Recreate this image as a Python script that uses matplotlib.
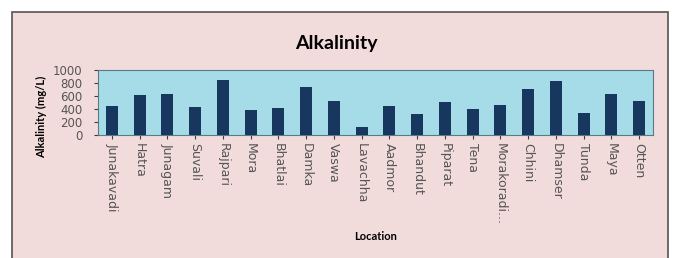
import matplotlib.pyplot as plt
from matplotlib.patches import Rectangle
import numpy as np

locations = ["Junakavadi", "Hatra", "Junagam", "Suvali", "Rajpari", "Mora",
             "Bhatlai", "Damka", "Vaswa", "Lavachha", "Aadmor", "Bhandut",
             "Piparat", "Tena", "Morakoradi...", "Chhini", "Dhamser", "Tunda",
             "Maya", "Otten"]
alkalinity = [451, 611, 637, 435, 839, 383, 409, 741, 518, 124,
              440, 316, 508, 399, 456, 715, 824, 332, 627, 523]
y_ticks = [0, 200, 400, 600, 800, 1000]

plt.rcParams['font.family'] = ['Lato', 'DejaVu Sans']

fig = plt.figure(figsize=(6.73, 2.58), dpi=100)
fig.patch.set_facecolor('white')
# chart area frame
fig.patches.append(Rectangle((12 / 673, -0.05), 656 / 673, 1 - 12 / 258 + 0.05,
                             transform=fig.transFigure, facecolor='#f2dcdb',
                             edgecolor='#555555', linewidth=1.2, zorder=-5))

ax = fig.add_axes([98 / 673, 1 - 135 / 258, 555 / 673, 65 / 258])
ax.set_facecolor('#a6dce8')
x = np.arange(len(locations))
ax.bar(x, alkalinity, width=0.43, color='#17375e', zorder=3)
ax.set_xlim(-0.5, len(locations) - 0.5)
ax.set_ylim(0, 1000)
ax.set_yticks(y_ticks)
ax.set_yticklabels([str(v) for v in y_ticks], fontsize=8.5, color='#555555',
                   family='DejaVu Sans')
ax.set_xticks(x)
ax.set_xticklabels(locations, rotation=-90, fontsize=9, color='#555555',
                   family='DejaVu Sans')
ax.tick_params(axis='x', length=3, direction='out', color='#404040', pad=3)
ax.tick_params(axis='y', length=3, direction='out', color='#404040', pad=8)
for s in ax.spines.values():
    s.set_color('#5a7a85')
    s.set_linewidth(0.8)

fig.text(42 / 673, 1 - 117 / 258, "Alkalinity (mg/L)", rotation=90,
         ha='center', va='center', fontsize=8, fontweight='bold')
fig.text(0.5, 1 - 43 / 258, "Alkalinity", ha='center', va='center',
         fontsize=14, fontweight='bold')
fig.text(376 / 673, 1 - 237 / 258, "Location", ha='center', va='center',
         fontsize=8, fontweight='bold')

fig.savefig("out.png", dpi=100, facecolor=fig.get_facecolor())
